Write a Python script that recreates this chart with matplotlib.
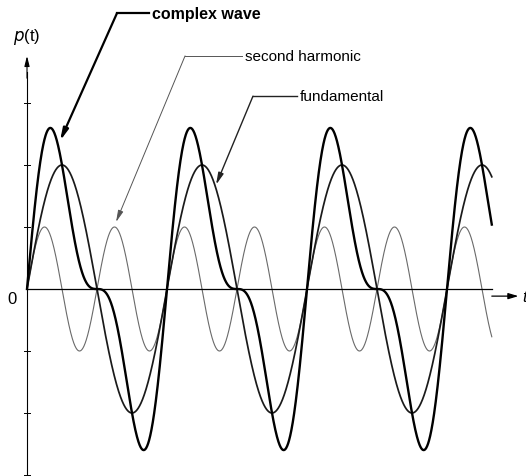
import numpy as np
import matplotlib.pyplot as plt

plt.rcParams["font.family"] = ["Liberation Sans", "DejaVu Sans"]

# harmonic components of the complex wave
harmonic_names = ["fundamental", "second harmonic"]
harmonic_orders = [1, 2]
harmonic_amplitudes = [2.0, 1.0]
periods_shown = 3.32
y_ticks = [-3, -2, -1, 1, 2, 3]

t = np.linspace(0, periods_shown, 2000)
fundamental = harmonic_amplitudes[0] * np.sin(2 * np.pi * harmonic_orders[0] * t)
second = harmonic_amplitudes[1] * np.sin(2 * np.pi * harmonic_orders[1] * t)
complex_wave = fundamental + second

fig = plt.figure(figsize=(5.26, 4.77), dpi=100)
ax = fig.add_axes([0, 0, 1, 1])
ax.set_xlim(-27 / 140, 499 / 140)
ax.set_ylim(-187 / 62, 290 / 62)
ax.axis("off")

# waves
ax.plot(t, second, color="#6a6a6a", lw=0.8)
ax.plot(t, fundamental, color="#1a1a1a", lw=1.25)
ax.plot(t, complex_wave, color="black", lw=1.7)

# axes
ax.plot([0, periods_shown], [0, 0], color="black", lw=0.9)
ax.plot([0, 0], [-3.02, 3.5], color="black", lw=0.8)
ax.annotate("", xy=(0, 3.76), xytext=(0, 3.4),
            arrowprops=dict(arrowstyle="-|>,head_length=0.6,head_width=0.15",
                            color="black", lw=0.8, shrinkA=0, shrinkB=0))
for yt in y_ticks:
    ax.plot([-0.02, 0.02], [yt, yt], color="black", lw=0.7)
ax.annotate("", xy=(3.51, -0.115), xytext=(3.32, -0.115),
            arrowprops=dict(arrowstyle="-|>,head_length=0.6,head_width=0.18",
                            color="black", lw=0.9, shrinkA=0, shrinkB=0))
ax.text(3.54, -0.115, "t", fontsize=12, style="italic", ha="left", va="center")
ax.text(-0.107, -0.16, "0", fontsize=12, ha="center", va="center")
ax.text(0.0, 4.08, "$\\it{p}$(t)", fontsize=12, ha="center", va="center")


def leader(label, text_xy, corner, tip, lw, color, **kw):
    ax.plot([text_xy[0] - 0.02, corner[0]], [text_xy[1], corner[1]], color=color, lw=lw)
    ax.annotate("", xy=tip, xytext=corner,
                arrowprops=dict(arrowstyle="-|>,head_length=0.7,head_width=0.16",
                                color=color, lw=lw, shrinkA=0, shrinkB=0))
    ax.text(text_xy[0], text_xy[1], label, ha="left", va="center", **kw)


leader("complex wave", (0.893, 4.45), (0.643, 4.45), (0.236, 2.39),
       1.6, "black", fontsize=11.5, fontweight="bold")
leader(harmonic_names[1], (1.557, 3.76), (1.129, 3.76), (0.636, 1.08),
       0.7, "#555555", fontsize=11)
leader(harmonic_names[0], (1.95, 3.11), (1.614, 3.11), (1.35, 1.68),
       1.0, "#222222", fontsize=11)

fig.savefig("out.png", dpi=100)
